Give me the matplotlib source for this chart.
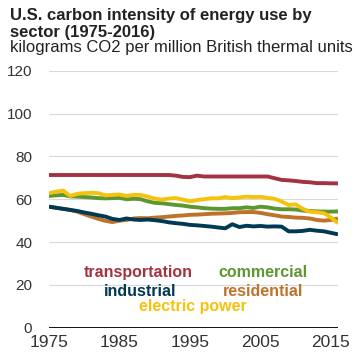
import matplotlib
matplotlib.use("Agg")
import matplotlib.pyplot as plt

plt.rcParams['font.family'] = ['Liberation Sans', 'DejaVu Sans']

years = list(range(1975, 2017))

transportation = [71.3, 71.3, 71.3, 71.3, 71.3, 71.3, 71.3, 71.3, 71.3, 71.3,
                  71.3, 71.3, 71.3, 71.3, 71.3, 71.3, 71.3, 71.3, 71.0, 70.4,
                  70.3, 71.0, 70.6, 70.6, 70.6, 70.6, 70.6, 70.6, 70.6, 70.6,
                  70.6, 70.6, 69.8, 69.0, 68.8, 68.5, 68.1, 67.9, 67.5, 67.5,
                  67.4, 67.4]
electric_power = [62.8, 63.5, 64.0, 61.5, 62.5, 62.8, 63.0, 62.8, 61.8, 62.0,
                  62.2, 61.5, 62.0, 62.0, 61.2, 60.3, 59.8, 60.3, 60.5, 59.8,
                  59.0, 59.6, 60.0, 60.4, 60.4, 61.0, 60.5, 60.8, 61.2, 61.0,
                  61.1, 60.6, 60.2, 58.9, 57.3, 57.6, 55.5, 54.2, 53.9, 53.5,
                  51.5, 48.8]
commercial = [61.5, 61.8, 62.0, 61.3, 61.2, 61.0, 60.8, 60.5, 60.4, 60.5,
              60.6, 60.0, 60.2, 60.0, 59.0, 58.3, 58.1, 57.7, 57.3, 57.0,
              56.5, 56.2, 55.8, 55.6, 55.5, 55.5, 55.8, 55.8, 56.2, 55.9,
              56.5, 56.2, 55.6, 55.3, 55.3, 55.2, 54.7, 54.5, 54.3, 54.2,
              54.2, 54.3]
residential = [56.5, 56.0, 55.5, 55.0, 54.2, 53.0, 51.9, 50.8, 49.9, 49.3,
               50.0, 50.3, 51.0, 51.2, 51.1, 51.4, 51.6, 51.9, 52.2, 52.4,
               52.7, 52.8, 53.0, 53.2, 53.3, 53.4, 53.6, 53.9, 54.0, 54.0,
               53.6, 53.0, 52.5, 51.9, 51.7, 51.4, 51.3, 51.0, 50.3, 50.0,
               50.3, 51.0]
industrial = [56.5, 56.0, 55.5, 55.0, 54.5, 53.8, 53.2, 52.5, 51.9, 50.8,
              50.3, 51.0, 50.5, 50.3, 50.5, 50.2, 49.8, 49.2, 48.8, 48.5,
              48.0, 47.8, 47.5, 47.2, 46.8, 46.4, 48.3, 47.0, 47.6, 47.3,
              47.5, 47.2, 47.3, 47.2, 45.0, 45.0, 45.2, 45.7, 45.3, 45.0,
              44.3, 43.6]

series = [
    ('transportation', transportation, '#a33340', (1987.6, 25.7)),
    ('residential', residential, '#bd732a', (2005.4, 16.8)),
    ('industrial', industrial, '#003953', (1987.9, 16.8)),
    ('commercial', commercial, '#5d9732', (2005.4, 25.7)),
    ('electric power', electric_power, '#f5c20c', (1995.4, 9.8)),
]

x_ticks = [1975, 1985, 1995, 2005, 2015]
y_ticks = [0, 20, 40, 60, 80, 100, 120]

fig = plt.figure(figsize=(3.62, 3.57), dpi=100)
ax = fig.add_axes([49 / 362, 1 - 327.7 / 357, 289 / 362, 257 / 357])

for name, vals, color, (lx, ly) in series:
    ax.plot(years, vals, color=color, lw=2.8, solid_capstyle='butt')
    ax.text(lx, ly, name, color=color, fontsize=11.5, fontweight='bold',
            ha='center', va='center')

ax.set_xlim(1975, 2016)
ax.set_ylim(0, 120)
ax.set_xticks(x_ticks)
ax.set_yticks(y_ticks)
ax.grid(axis='y', color='#d9d9d9', lw=0.8)
ax.set_axisbelow(True)
ax.axhline(0, color='black', lw=1.3, zorder=3)
for s in ax.spines.values():
    s.set_visible(False)
ax.tick_params(axis='both', length=0, colors='#333333')
ax.tick_params(axis='y', labelsize=11, pad=12)
ax.tick_params(axis='x', labelsize=12.5, pad=5)

fig.text(10 / 362, 1 - 20 / 357, 'U.S. carbon intensity of energy use by',
         fontsize=12, fontweight='bold', color='#222222', va='baseline')
fig.text(10 / 362, 1 - 37 / 357, 'sector (1975-2016)',
         fontsize=12, fontweight='bold', color='#222222', va='baseline')
fig.text(10 / 362, 1 - 51.7 / 357, 'kilograms CO2 per million British thermal units',
         fontsize=12, color='#222222', va='baseline')

fig.savefig('out.png', dpi=100)
